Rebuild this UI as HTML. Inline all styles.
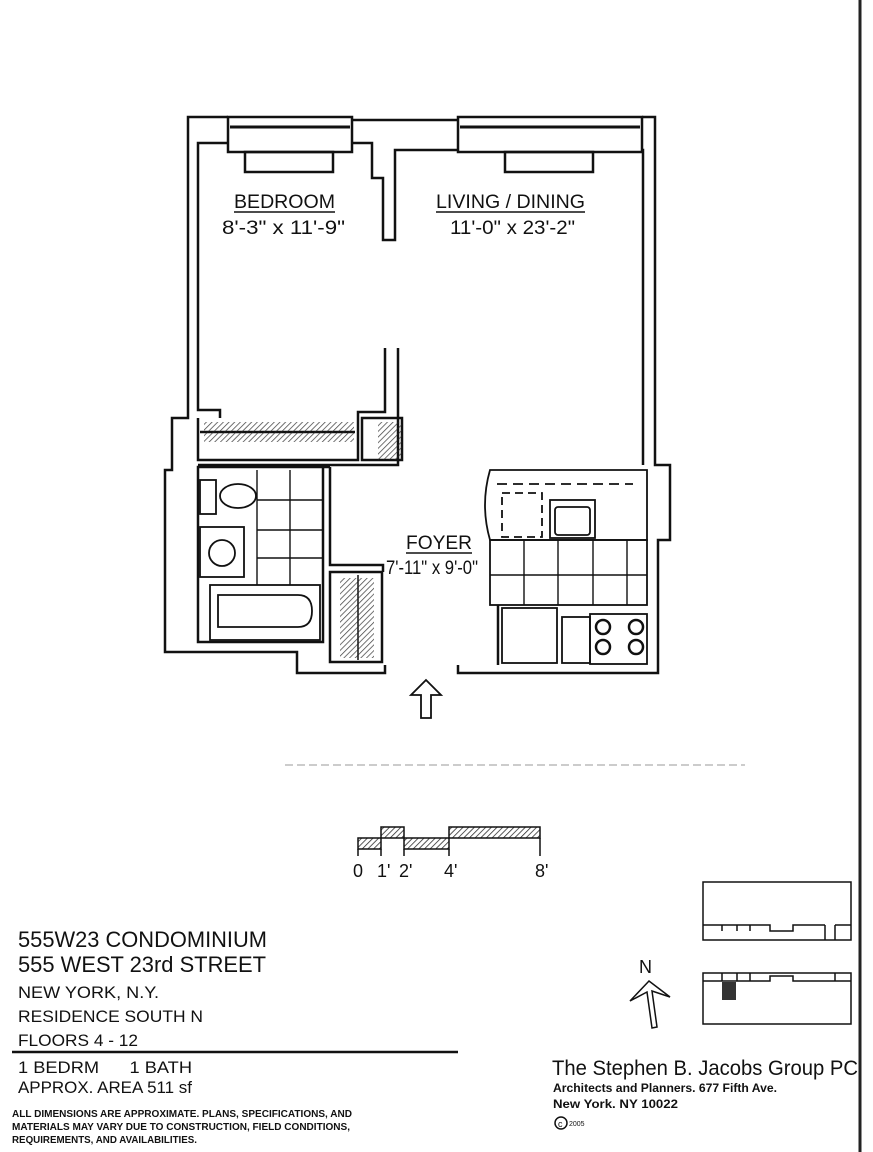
<!DOCTYPE html>
<html><head><meta charset="utf-8"><style>
html,body{margin:0;padding:0;background:#fff;}
svg{display:block;}
text{font-family:"Liberation Sans",Arial,sans-serif;fill:#111;}
</style></head><body>
<svg width="873" height="1152" viewBox="0 0 873 1152" xmlns="http://www.w3.org/2000/svg">
<defs>
<pattern id="h" width="4" height="4" patternUnits="userSpaceOnUse" patternTransform="rotate(45)"><line x1="0" y1="0" x2="0" y2="4" stroke="#222" stroke-width="1.5"/></pattern>
</defs>
<rect width="873" height="1152" fill="#fff"/>
<line x1="860" y1="0" x2="860" y2="1152" stroke="#222" stroke-width="3"/>
<g fill="none" stroke="#111" stroke-width="2.5">
<polyline points="228,117 188,117 188,418 172,418 172,470 165,470 165,652 297,652 297,673 385,673 385,665"/>
<polyline points="458,665 458,673 658,673 658,540 670,540 670,465 655,465 655,117 642,117"/>
<line x1="352" y1="120" x2="458" y2="120"/>
<rect x="228" y="117" width="124" height="35"/>
<rect x="458" y="117" width="184" height="35"/>
<line x1="230" y1="127" x2="350" y2="127" stroke-width="3"/>
<line x1="460" y1="127" x2="640" y2="127" stroke-width="3"/>
<rect x="245" y="152" width="88" height="20"/>
<rect x="505" y="152" width="88" height="20"/>
<polyline points="228,143 198,143 198,410 220,410 220,418"/>
<polyline points="352,143 372,143 372,178 383,178 383,240 395,240 395,150 458,150"/>
<polyline points="642,150 643,150 643,465"/>
<polyline points="385,348 385,412 358,412 358,460 198,460 198,418"/>
<polyline points="398,348 398,465 198,465"/>
<rect x="362" y="418" width="40" height="42"/>
<line x1="200" y1="432" x2="355" y2="432"/>
<rect x="198" y="467" width="125" height="175"/>
<line x1="323" y1="467" x2="330" y2="467"/>
<polyline points="330,467 330,565 383,565 383,572"/>
<rect x="330" y="572" width="52" height="90"/>
<line x1="358" y1="575" x2="358" y2="660" stroke-width="1.5"/>
<rect x="200" y="480" width="16" height="34" stroke-width="1.8"/>
<ellipse cx="238" cy="496" rx="18" ry="12" stroke-width="1.8"/>
<rect x="200" y="527" width="44" height="50" stroke-width="1.8"/>
<circle cx="222" cy="553" r="13" stroke-width="1.8"/>
<rect x="210" y="585" width="110" height="55" stroke-width="1.8"/>
<path d="M218,595 h80 q14,0 14,16 q0,16 -14,16 h-80 z" stroke-width="1.8"/>
<g stroke-width="1.4">
<line x1="257" y1="470" x2="257" y2="585"/><line x1="290" y1="470" x2="290" y2="585"/>
<line x1="257" y1="500" x2="323" y2="500"/><line x1="257" y1="530" x2="323" y2="530"/><line x1="257" y1="558" x2="323" y2="558"/>
</g>
<path d="M490,470 Q480,505 490,540 L647,540 L647,470 Z" stroke-width="1.8"/>
<line x1="497" y1="484" x2="633" y2="484" stroke-dasharray="10,6" stroke-width="1.8"/>
<rect x="502" y="493" width="40" height="44" stroke-dasharray="8,5" stroke-width="1.8"/>
<rect x="550" y="500" width="45" height="38" stroke-width="1.8"/>
<rect x="555" y="507" width="35" height="28" rx="3" stroke-width="1.8"/>
<rect x="490" y="540" width="157" height="65" stroke-width="1.8"/>
<g stroke-width="1.4">
<line x1="524" y1="540" x2="524" y2="605"/><line x1="558" y1="540" x2="558" y2="605"/><line x1="593" y1="540" x2="593" y2="605"/><line x1="627" y1="540" x2="627" y2="605"/>
<line x1="490" y1="575" x2="647" y2="575"/>
</g>
<line x1="498" y1="605" x2="498" y2="665"/>
<rect x="502" y="608" width="55" height="55" stroke-width="1.8"/>
<rect x="562" y="617" width="28" height="46" stroke-width="1.8"/>
<rect x="590" y="614" width="57" height="50" stroke-width="1.8"/>
<circle cx="603" cy="627" r="7"/><circle cx="636" cy="627" r="7"/>
<circle cx="603" cy="647" r="7"/><circle cx="636" cy="647" r="7"/>
<path d="M426,680 L411,695 L421,695 L421,718 L431,718 L431,695 L441,695 Z" stroke-width="1.8"/>
</g>
<rect x="204" y="422" width="150" height="20" fill="url(#h)" opacity="0.85"/>
<rect x="378" y="422" width="24" height="38" fill="url(#h)" opacity="0.85"/>
<rect x="340" y="578" width="34" height="80" fill="url(#h)" opacity="0.85"/>
<line x1="285" y1="765" x2="745" y2="765" stroke="#999" stroke-width="1" stroke-dasharray="8,4"/>
<g font-size="19">
<text x="234" y="208" textLength="101" lengthAdjust="spacingAndGlyphs">BEDROOM</text>
<line x1="234" y1="212" x2="335" y2="212" stroke="#111" stroke-width="1.4"/>
<text x="222" y="234" textLength="123" lengthAdjust="spacingAndGlyphs">8'-3" x 11'-9"</text>
<text x="436" y="208" textLength="149" lengthAdjust="spacingAndGlyphs">LIVING / DINING</text>
<line x1="436" y1="212" x2="585" y2="212" stroke="#111" stroke-width="1.4"/>
<text x="450" y="234" textLength="125" lengthAdjust="spacingAndGlyphs">11'-0" x 23'-2"</text>
<text x="406" y="549" textLength="66" lengthAdjust="spacingAndGlyphs">FOYER</text>
<line x1="406" y1="553" x2="472" y2="553" stroke="#111" stroke-width="1.4"/>
<text x="386" y="574" textLength="92" lengthAdjust="spacingAndGlyphs">7'-11" x 9'-0"</text>
</g>
<g stroke="#111" stroke-width="1.5">
<rect x="358" y="838" width="23" height="11" fill="url(#h)"/>
<rect x="381" y="827" width="23" height="11" fill="url(#h)"/>
<rect x="404" y="838" width="45" height="11" fill="url(#h)"/>
<rect x="449" y="827" width="91" height="11" fill="url(#h)"/>
<line x1="358" y1="849" x2="358" y2="856"/><line x1="381" y1="849" x2="381" y2="856"/><line x1="404" y1="849" x2="404" y2="856"/><line x1="449" y1="849" x2="449" y2="856"/><line x1="540" y1="838" x2="540" y2="856"/>
</g>
<g font-size="18">
<text x="353" y="877">0</text><text x="377" y="877">1'</text><text x="399" y="877">2'</text><text x="444" y="877">4'</text><text x="535" y="877">8'</text>
</g>
<g lengthAdjust="spacingAndGlyphs">
<text x="18" y="947" font-size="22" textLength="249" lengthAdjust="spacingAndGlyphs">555W23 CONDOMINIUM</text>
<text x="18" y="972" font-size="22" textLength="248" lengthAdjust="spacingAndGlyphs">555 WEST 23rd STREET</text>
<text x="18" y="998" font-size="17" textLength="141" lengthAdjust="spacingAndGlyphs">NEW YORK,  N.Y.</text>
<text x="18" y="1022" font-size="17" textLength="185" lengthAdjust="spacingAndGlyphs">RESIDENCE SOUTH N</text>
<text x="18" y="1046" font-size="17" textLength="120" lengthAdjust="spacingAndGlyphs">FLOORS 4 - 12</text>
</g>
<line x1="12" y1="1052" x2="458" y2="1052" stroke="#111" stroke-width="2.5"/>
<text x="18" y="1073" font-size="17" xml:space="preserve" textLength="174" lengthAdjust="spacingAndGlyphs">1 BEDRM      1 BATH</text>
<text x="18" y="1093" font-size="17" textLength="174" lengthAdjust="spacingAndGlyphs">APPROX.  AREA  511 sf</text>
<g font-size="10" font-weight="bold">
<text x="12" y="1117" textLength="340" lengthAdjust="spacingAndGlyphs">ALL DIMENSIONS ARE APPROXIMATE.  PLANS, SPECIFICATIONS, AND</text>
<text x="12" y="1130" textLength="338" lengthAdjust="spacingAndGlyphs">MATERIALS MAY VARY DUE TO CONSTRUCTION, FIELD CONDITIONS,</text>
<text x="12" y="1143" textLength="185" lengthAdjust="spacingAndGlyphs">REQUIREMENTS, AND AVAILABILITIES.</text>
</g>
<g fill="none" stroke="#111" stroke-width="1.5">
<rect x="703" y="882" width="148" height="58"/>
<polyline points="703,925 770,925 770,931 793,931 793,925 825,925"/>
<line x1="722" y1="925" x2="722" y2="931"/><line x1="737" y1="925" x2="737" y2="931"/><line x1="750" y1="925" x2="750" y2="931"/>
<line x1="825" y1="925" x2="825" y2="940"/><line x1="835" y1="925" x2="835" y2="940"/><line x1="835" y1="925" x2="851" y2="925"/>
<rect x="703" y="973" width="148" height="51"/>
<polyline points="703,981 770,981 770,976 793,976 793,981 851,981"/>
<line x1="722" y1="973" x2="722" y2="981"/><line x1="737" y1="973" x2="737" y2="981"/><line x1="750" y1="973" x2="750" y2="981"/><line x1="835" y1="973" x2="835" y2="981"/>
<path d="M649,981 L630,1001 L647,992 L652,1028 L657,1027 L652,991 L670,997 Z"/>
</g>
<rect x="722" y="982" width="14" height="18" fill="#333"/>
<text x="639" y="973" font-size="18">N</text>
<text x="552" y="1075" font-size="21" textLength="306" lengthAdjust="spacingAndGlyphs">The Stephen B. Jacobs Group PC</text>
<text x="553" y="1092" font-size="12" font-weight="bold" textLength="224" lengthAdjust="spacingAndGlyphs">Architects and Planners.  677 Fifth Ave.</text>
<text x="553" y="1108" font-size="12" font-weight="bold" textLength="125" lengthAdjust="spacingAndGlyphs">New York.  NY 10022</text>
<circle cx="561" cy="1123" r="6" fill="none" stroke="#111" stroke-width="1.5"/>
<text x="558" y="1127" font-size="9">c</text>
<text x="569" y="1126" font-size="7">2005</text>
</svg>
</body></html>
